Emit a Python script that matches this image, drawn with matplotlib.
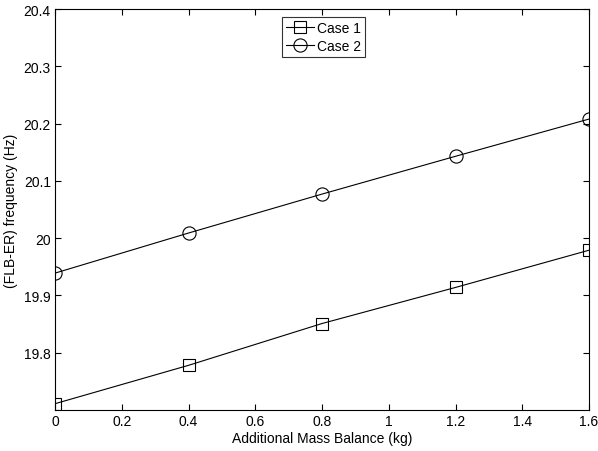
import matplotlib.pyplot as plt

# Additional mass (kg) and the FLB-ER frequency for both cases
mass = [0, 0.4, 0.8, 1.2, 1.6]
case1 = [19.711, 19.778, 19.851, 19.914, 19.979]
case2 = [19.939, 20.009, 20.077, 20.143, 20.208]

plt.rcParams['font.family'] = ['Liberation Sans', 'DejaVu Sans']
plt.rcParams['font.size'] = 10

fig = plt.figure(figsize=(5.98, 4.52), dpi=100)
ax = fig.add_axes([0.092, 0.0907, 0.893, 0.887])

ax.plot(mass, case1, color='black', lw=0.8, marker='s', ms=8.5,
        mfc='none', mew=0.8, label='Case 1')
ax.plot(mass, case2, color='black', lw=0.8, marker='o', ms=9.5,
        mfc='none', mew=0.8, label='Case 2')

ax.set_xlim(0, 1.6)
ax.set_ylim(19.7, 20.4)
ax.set_xticks([0, 0.2, 0.4, 0.6, 0.8, 1, 1.2, 1.4, 1.6])
ax.set_xticklabels(['0', '0.2', '0.4', '0.6', '0.8', '1', '1.2', '1.4', '1.6'])
ax.set_yticks([19.8, 19.9, 20, 20.1, 20.2, 20.3, 20.4])
ax.set_yticklabels(['19.8', '19.9', '20', '20.1', '20.2', '20.3', '20.4'])
ax.tick_params(direction='in', length=4, width=0.8, top=True, right=True, pad=3)
for s in ax.spines.values():
    s.set_linewidth(0.8)

ax.set_xlabel('Additional Mass Balance (kg)', labelpad=2)
ax.set_ylabel('(FLB-ER) frequency (Hz)', labelpad=4)

leg = ax.legend(loc='upper left', bbox_to_anchor=(0.425, 0.98), frameon=True,
                fancybox=False, edgecolor='black', handlelength=2.0,
                handletextpad=0.2, borderpad=0.3, labelspacing=0.25,
                borderaxespad=0)
leg.get_frame().set_linewidth(0.8)

fig.savefig('out.png', dpi=100)
